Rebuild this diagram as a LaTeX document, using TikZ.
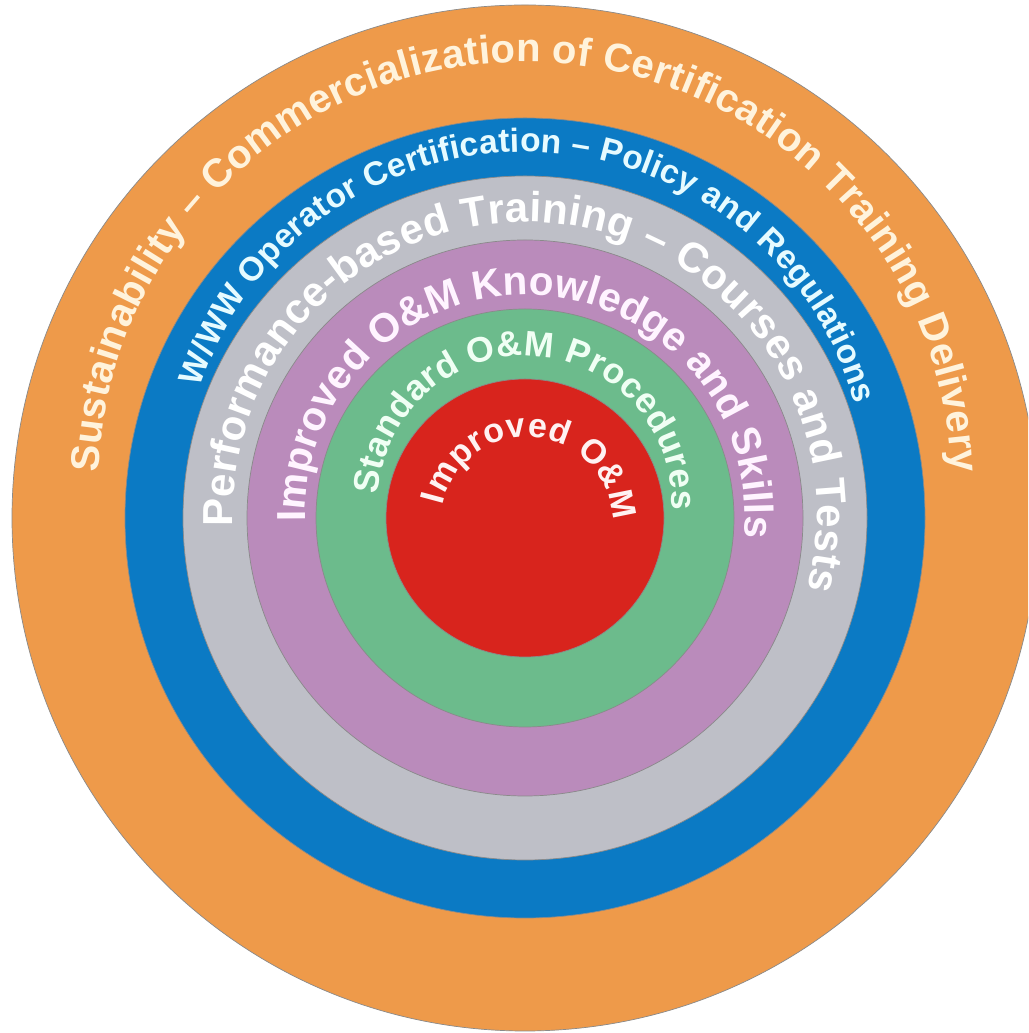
\documentclass[tikz,border=0pt]{standalone}
\usepackage{fontspec}
\setmainfont{Liberation Sans}
\usetikzlibrary{decorations.text,calc}
\definecolor{ringorange}{HTML}{EE9A4A}
\definecolor{ringblue}{HTML}{0B7AC4}
\definecolor{ringgray}{HTML}{BEBFC7}
\definecolor{ringpurple}{HTML}{BA8BBB}
\definecolor{ringgreen}{HTML}{6CBB8C}
\definecolor{ringred}{HTML}{D8241D}
\definecolor{txtorange}{HTML}{FFF3DC}
\definecolor{txtblue}{HTML}{E6FBFF}
\definecolor{txtgray}{HTML}{FFFFFF}
\definecolor{txtpurple}{HTML}{FFF4FF}
\definecolor{txtgreen}{HTML}{F0FFF4}
\definecolor{txtred}{HTML}{FFF2F2}
\definecolor{ringline}{HTML}{8A8A8A}
\begin{document}
\begin{tikzpicture}[x=1pt,y=1pt,
  ring/.style={fill=#1, draw=ringline, line width=0.7pt},
  arclabel/.style 2 args={decorate, decoration={text along path, text align=fit to path, text color=#1, text={#2}}}]
\useasboundingbox (0,0) rectangle (1028,1033);
\clip (0,0) rectangle (1028,1033);
\fill[white] (0,0) rectangle (1028,1033);
\coordinate (O) at (525,515);
\draw[ring=ringorange] (O) circle[radius=513];
\draw[ring=ringblue] (O) circle[radius=400];
\draw[ring=ringgray] (O) circle[radius=342];
\draw[ring=ringpurple] (O) circle[radius=278];
\draw[ring=ringgreen] (O) circle[radius=209];
\draw[ring=ringred] (O) circle[radius=139];
% text centres
\coordinate (Co) at (525,544);
\coordinate (Cb) at (525,539);
\coordinate (Cg) at (525,519);
\coordinate (Cp) at (525,518);
\coordinate (Cn) at (525,530);
\coordinate (Cr) at (527,510);
\path[arclabel={txtorange}{|\fontsize{40}{40}\selectfont\bfseries|Sustainability – Commercialization of Certification Training Delivery}]
  ($(Co)+(177.8:427)$) arc[start angle=177.8, end angle=2.2, radius=427];
\path[arclabel={txtblue}{|\fontsize{33.5}{34}\selectfont\bfseries|W/WW Operator Certification – Policy and Regulations}]
  ($(Cb)+(161.8:342)$) arc[start angle=161.8, end angle=15.2, radius=342];
\path[arclabel={txtgray}{|\fontsize{42}{42}\selectfont\bfseries|Performance-based Training – Courses and Tests}]
  ($(Cg)+(182.5:292)$) arc[start angle=182.5, end angle=-14.9, radius=292];
\path[arclabel={txtpurple}{|\fontsize{40.5}{41}\selectfont\bfseries|Improved O{\&}M Knowledge and Skills}]
  ($(Cp)+(181.8:220)$) arc[start angle=181.8, end angle=-5.9, radius=220];
\path[arclabel={txtgreen}{|\fontsize{35.5}{36}\selectfont\bfseries|Standard O{\&}M Procedures}]
  ($(Cn)+(176.9:147)$) arc[start angle=176.9, end angle=-2.8, radius=147];
\path[arclabel={txtred}{|\fontsize{34}{35}\selectfont\bfseries|Improved O{\&}M}]
  ($(Cr)+(168:86)$) arc[start angle=168, end angle=2, radius=86];
\end{tikzpicture}
\end{document}
